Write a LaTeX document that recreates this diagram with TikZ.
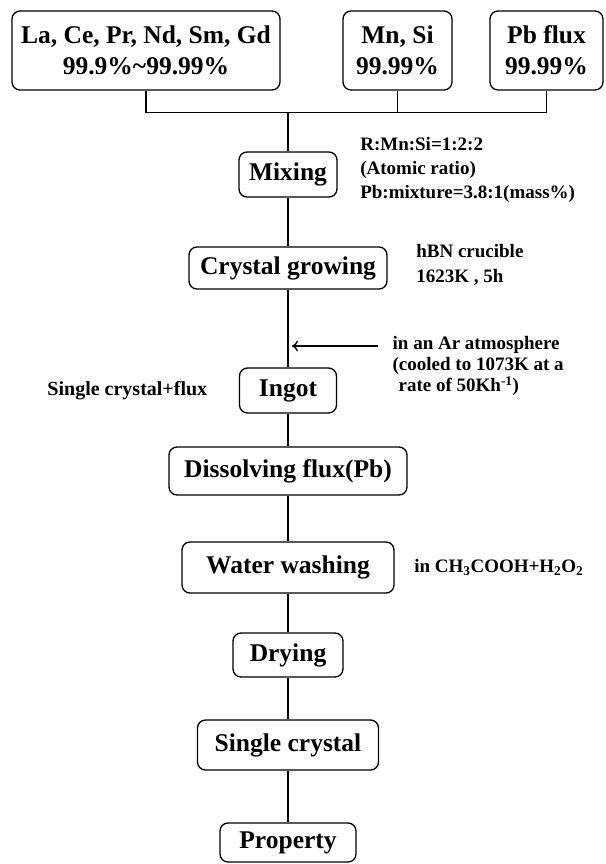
\documentclass[tikz,border=0pt]{standalone}
\usepackage{fontspec}
\setmainfont{Liberation Serif}
\usetikzlibrary{arrows,arrows.meta,positioning,calc}
\tikzset{stepbox/.style={draw,rounded corners=8pt,line width=1.3pt,inner sep=0pt,align=center,fill=white,font=\fontsize{25.5}{31}\selectfont\bfseries}}
\tikzset{note/.style={inner sep=0pt,align=left,anchor=west,font=\fontsize{19}{24}\selectfont\bfseries}}

\begin{document}
\begin{tikzpicture}[x=1pt, y=1pt, >={To[length=6pt,width=11pt]}, line width=1.3pt, auto, node distance=90pt]
\useasboundingbox (0,0) rectangle (605,-864);
% starting materials
\node[stepbox, minimum width=268pt, minimum height=79pt] (ree) at (146,-50.5) {La, Ce, Pr, Nd, Sm, Gd\\99.9\%\textasciitilde99.99\%};
\node[stepbox, minimum width=109pt, minimum height=79pt] (mnsi) at (397.5,-50.5) {Mn, Si\\99.99\%};
\node[stepbox, minimum width=113pt, minimum height=79pt] (pbflux) at (546.5,-50.5) {Pb flux\\99.99\%};
% process steps
\node[stepbox, minimum width=98pt, minimum height=45pt] (mix) at (288,-174.5) {Mixing};
\node[stepbox, minimum width=198pt, minimum height=42pt][below of=mix, node distance=93.5pt] (grow) {Crystal growing};
\node[stepbox, minimum width=97pt, minimum height=45pt][below of=grow, node distance=122.5pt] (ingot) {Ingot};
\node[stepbox, minimum width=238pt, minimum height=48pt][below of=ingot, node distance=80.5pt] (dissolve) {Dissolving flux(Pb)};
\node[stepbox, minimum width=212pt, minimum height=51pt][below of=dissolve, node distance=96.5pt] (wash) {Water washing};
\node[stepbox, minimum width=110pt, minimum height=44pt][below of=wash, node distance=87.5pt] (dry) {Drying};
\node[stepbox, minimum width=181pt, minimum height=50pt][below of=dry, node distance=90pt] (single) {Single crystal};
\node[stepbox, minimum width=136pt, minimum height=39pt][below of=single, node distance=97.5pt] (prop) {Property};
% conditions
\node[note, right=22pt of mix, yshift=5pt] (ratio) {R:Mn:Si=1:2:2\\(Atomic ratio)\\Pb:mixture=3.8:1(mass\%)};
\node[note, font=\fontsize{19}{25}\selectfont\bfseries, right=28pt of grow, yshift=3pt] (crucible) {hBN crucible\\1623K , 5h};
\node[note, font=\fontsize{19}{21}\selectfont\bfseries] (atmos) at (392,-366) {in an Ar atmosphere\\(cooled to 1073K at a\\\hspace{6pt}rate of 50Kh\textsuperscript{-1})};
\node[note, font=\fontsize{20}{24}\selectfont\bfseries, left=31pt of ingot] (mixture) {Single crystal+flux};
\node[note, right=19pt of wash] (acid) {in CH\textsubscript{3}COOH+H\textsubscript{2}O\textsubscript{2}};
\coordinate (artail) at (378,-346);
% connectors
\draw (ree.south) -- ++(0,-22) -| (pbflux.south);
\draw (mnsi.south) -- (mnsi.south |- 0,-112);
\draw (mix.north |- 0,-112) -- (mix.north);
\path (mix) edge (grow)
      (grow) edge (ingot)
      (ingot) edge (dissolve)
      (dissolve) edge (wash)
      (wash) edge (dry)
      (dry) edge (single)
      (single) edge (prop);
\draw[->, shorten >=4pt] (artail) -- (artail -| ingot.north);
\end{tikzpicture}
\end{document}
